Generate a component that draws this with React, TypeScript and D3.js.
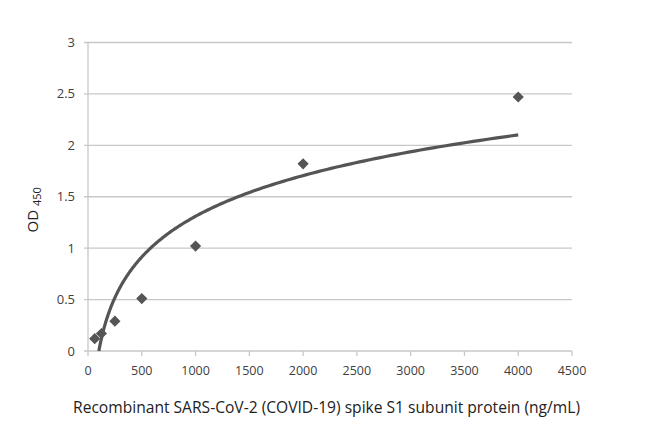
import React from "react";
import * as d3 from "d3";

const concentrations = [62.5, 125, 250, 500, 1000, 2000, 4000];
const odValues = [0.12, 0.17, 0.29, 0.51, 1.02, 1.82, 2.47];
const xTicks = [0, 500, 1000, 1500, 2000, 2500, 3000, 3500, 4000, 4500];
const yTicks = [0, 0.5, 1, 1.5, 2, 2.5, 3];

const W = 650, H = 427;
const left = 88, right = 572, top = 42.5, bottom = 351;

export default function App() {
  const x = d3.scaleLinear().domain([0, 4500]).range([left, right]);
  const y = d3.scaleLinear().domain([0, 3]).range([bottom, top]);

  // logarithmic trendline fitted to the data (least squares on ln x)
  const lx = concentrations.map(Math.log);
  const mx = d3.mean(lx)!;
  const my = d3.mean(odValues)!;
  const sxy = d3.sum(lx.map((v, i) => (v - mx) * (odValues[i] - my)));
  const sxx = d3.sum(lx.map((v) => (v - mx) * (v - mx)));
  const a = sxy / sxx;
  const b = my - a * mx;
  const x0 = Math.exp(-b / a);
  const xs = d3.range(0, 201).map((i) => x0 * Math.pow(4000 / x0, i / 200));
  const line = d3
    .line<number>()
    .x((d) => x(d))
    .y((d) => y(a * Math.log(d) + b))
    .curve(d3.curveLinear);

  const diamond = d3.symbol().type(d3.symbolDiamond2).size(80)()!;
  const font = "'Open Sans', Calibri, sans-serif";
  const textColor = "#404040";

  return (
    <div style={{ position: "absolute", left: 0, top: 0 }}>
      <svg width={W} height={H} style={{ display: "block", background: "#fff" }}>
        {yTicks.map((t) => (
          <g key={t}>
            <line x1={left - 4} x2={right} y1={y(t)} y2={y(t)} stroke="#c8c8c8" strokeWidth={1.3} />
            <text x={75} y={y(t)} dy="0.35em" textAnchor="end" fontFamily={font} fontSize={13} fill={textColor}>
              {t}
            </text>
          </g>
        ))}
        <line x1={left} x2={left} y1={top} y2={bottom} stroke="#c8c8c8" strokeWidth={1.3} />
        {xTicks.map((t) => (
          <g key={t}>
            <line x1={x(t)} x2={x(t)} y1={bottom} y2={bottom + 5} stroke="#c8c8c8" strokeWidth={1.3} />
            <text x={x(t)} y={371} textAnchor="middle" dy="0.35em" fontFamily={font} fontSize={12.5} fill={textColor}>
              {t}
            </text>
          </g>
        ))}
        <path d={line(xs)!} fill="none" stroke="#555" strokeWidth={3.2} />
        {concentrations.map((c, i) => (
          <path key={c} d={diamond} transform={`translate(${x(c)},${y(odValues[i])})`} fill="#555" />
        ))}
        <text x={326.5} y={408} dy="0.35em" textAnchor="middle" fontFamily={font} fontSize={15.6} fill="#222">
          Recombinant SARS-CoV-2 (COVID-19) spike S1 subunit protein (ng/mL)
        </text>
        <text transform={`translate(33,${(top + bottom) / 2 + 13}) rotate(-90)`} textAnchor="middle" dy="0.35em" fontFamily={font} fontSize={15} fill="#222">
          OD <tspan fontSize={11} dy="0.25em">450</tspan>
        </text>
      </svg>
    </div>
  );
}
